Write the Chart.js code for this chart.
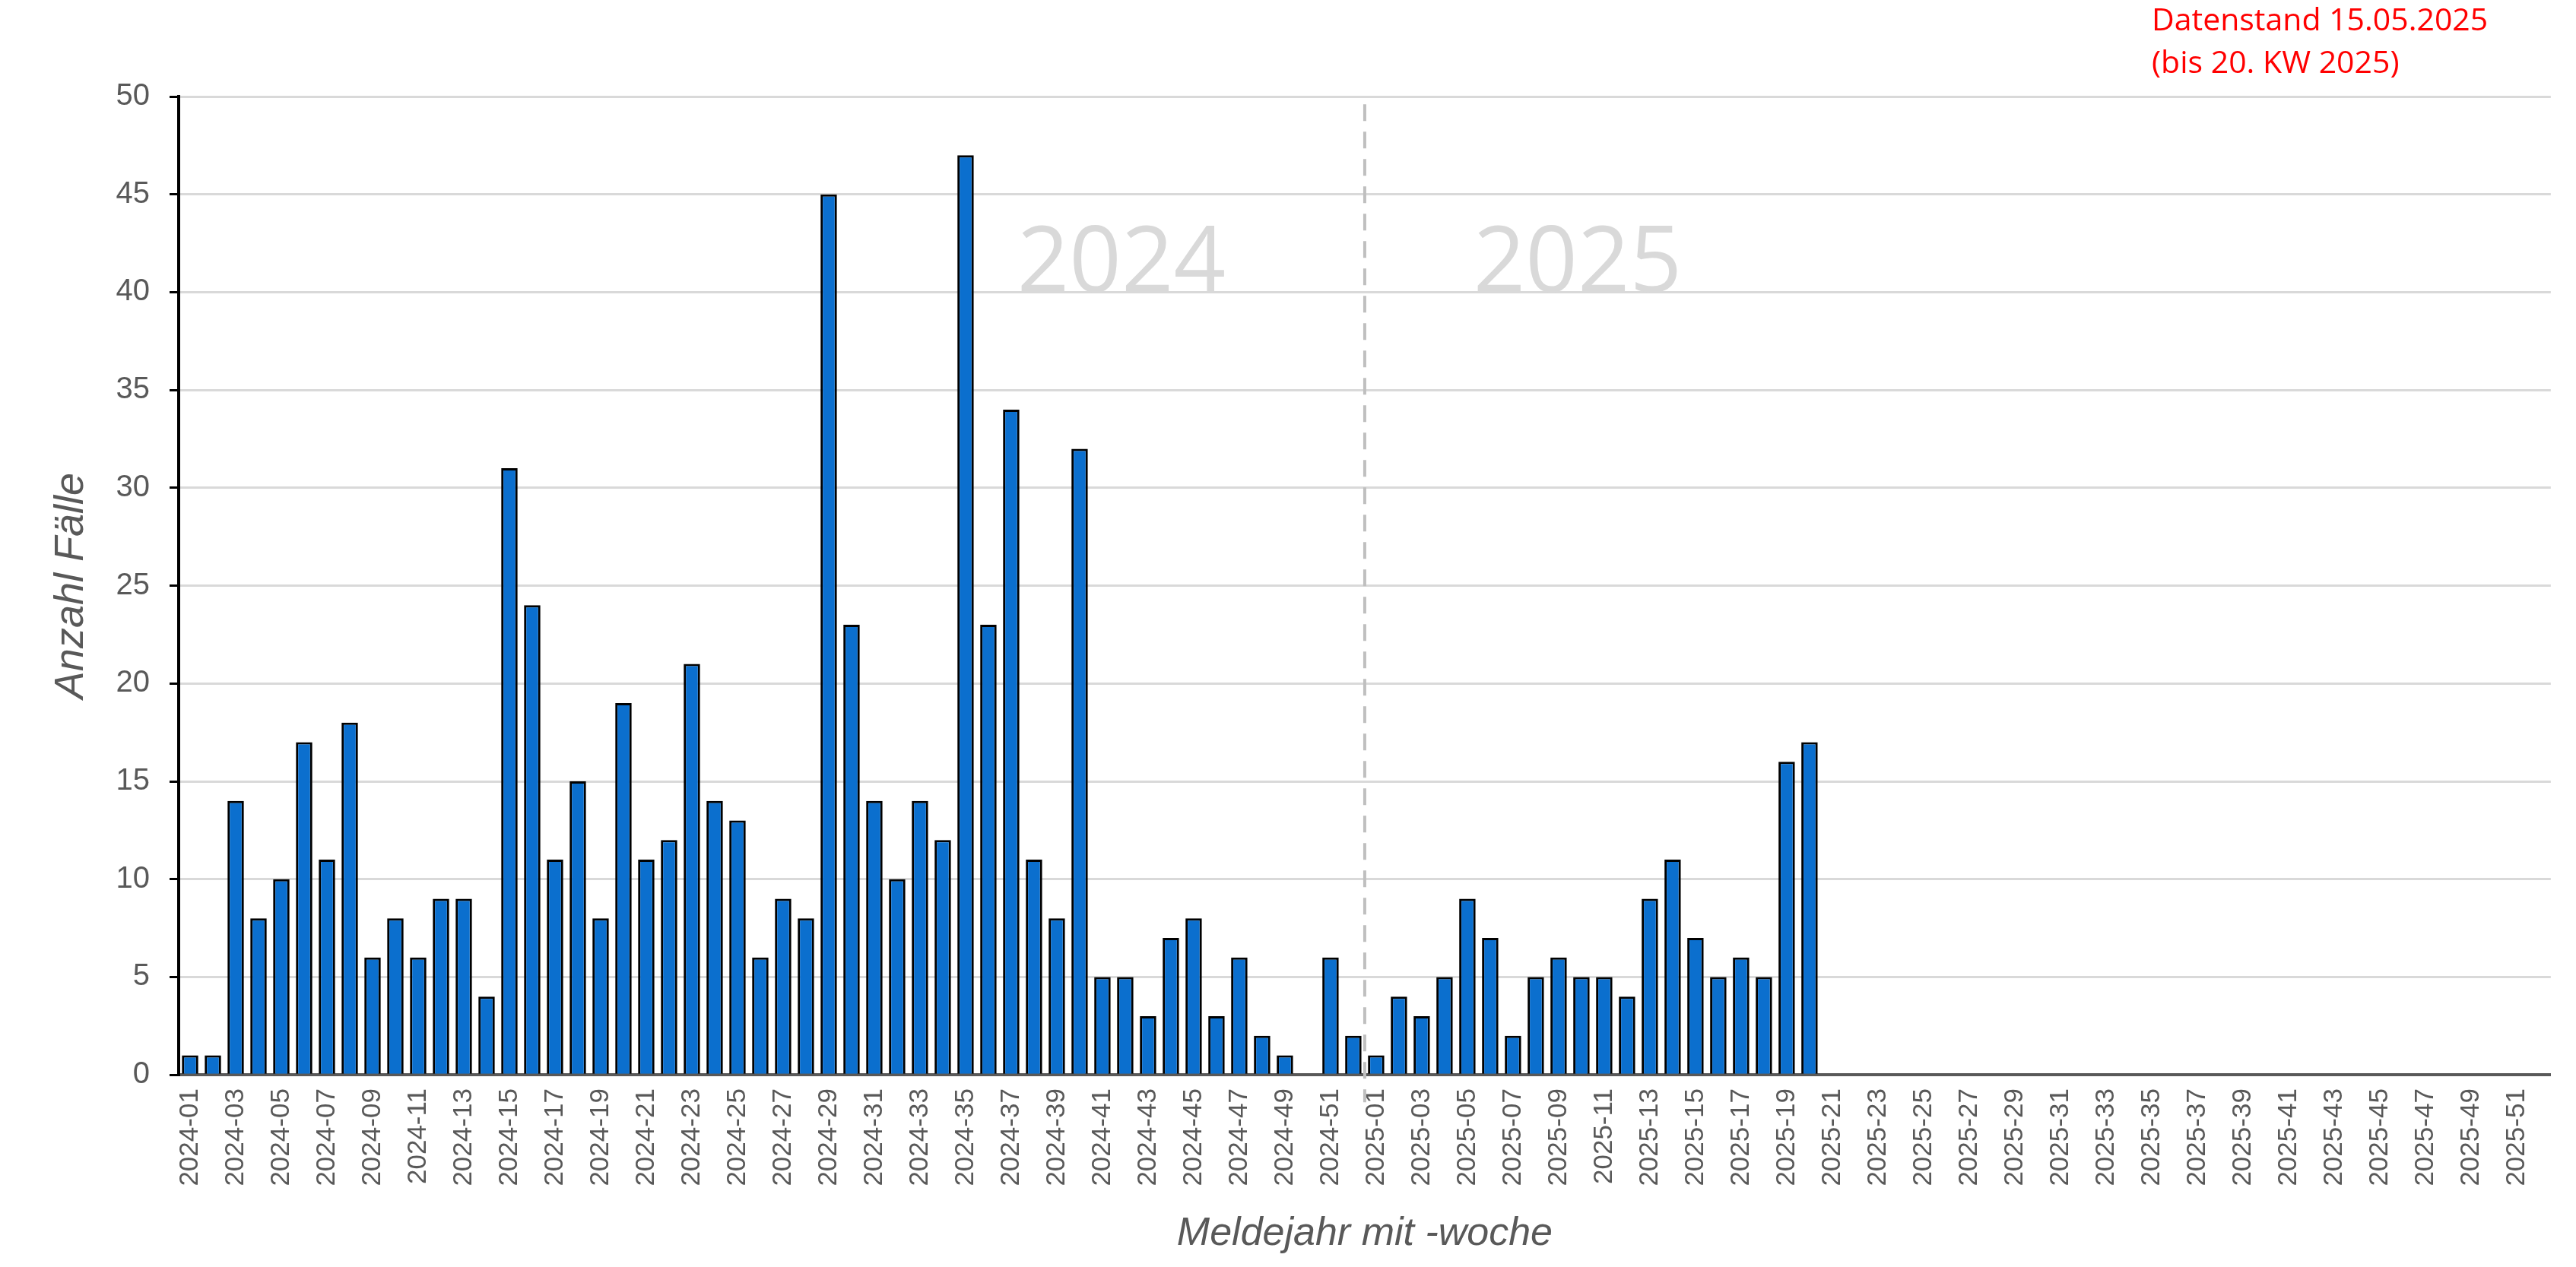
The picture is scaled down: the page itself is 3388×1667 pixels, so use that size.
<!DOCTYPE html>
<html><head><meta charset="utf-8">
<script src="https://cdn.jsdelivr.net/npm/chart.js@4/dist/chart.umd.min.js"></script>
<style>
html,body{margin:0;padding:0;background:#fff;}
#wrap{position:relative;width:3388px;height:1667px;}
#note{position:absolute;left:2830px;top:-4px;color:#ff0000;font-family:"Open Sans","Lato",sans-serif;font-size:41px;line-height:56px;}
</style></head>
<body><div id="wrap"><canvas id="c" width="3388" height="1667"></canvas>
<div id="note">Datenstand 15.05.2025<br>(bis 20. KW 2025)</div></div>
<script>
const years = ['2024','2025'];
const values2024 = [1,1,14,8,10,17,11,18,6,8,6,9,9,4,31,24,11,15,8,19,11,12,21,14,13,6,9,8,45,23,14,10,14,12,47,23,34,11,8,32,5,5,3,7,8,3,6,2,1,0,6,2];
const values2025 = [1,4,3,5,9,7,2,5,6,5,5,4,9,11,7,5,6,5,16,17];
const weeksPerYear = 52;
const yTicks = [0,5,10,15,20,25,30,35,40,45,50];

const labels = [];
years.forEach(y => { for (let w = 1; w <= weeksPerYear; w++) labels.push(y + '-' + String(w).padStart(2,'0')); });
const data = values2024.concat(values2025);
while (data.length < labels.length) data.push(null);

const overlay = {
  id:'overlay',
  afterDatasetsDraw(chart){
    const {ctx, scales:{x,y}} = chart;
    const xs = (x.getPixelForValue(51) + x.getPixelForValue(52))/2;
    ctx.save();
    ctx.strokeStyle = '#bfbfbf'; ctx.lineWidth = 4; ctx.setLineDash([22,14]);
    ctx.beginPath(); ctx.moveTo(xs, y.getPixelForValue(49.6)); ctx.lineTo(xs, y.bottom + 36); ctx.stroke();
    ctx.setLineDash([]);
    ctx.fillStyle = '#d9d9d9'; ctx.font = '120px "Open Sans", Lato, sans-serif';
    ctx.textAlign = 'center'; ctx.textBaseline = 'alphabetic';
    ctx.fillText(years[0], (x.getPixelForValue(41)+x.getPixelForValue(42))/2 - 20, y.getPixelForValue(40));
    ctx.fillText(years[1], (x.getPixelForValue(61)+x.getPixelForValue(62))/2 - 20, y.getPixelForValue(40));
    ctx.restore();
  }
};

const tickFont = {family:'"Liberation Sans Narrow","Liberation Sans",Arial,sans-serif', size:35};
new Chart(document.getElementById('c'), {
  type:'bar',
  data:{labels, datasets:[{data, backgroundColor:'#0b6fce', borderColor:'#000', borderWidth:3, barPercentage:0.72, categoryPercentage:1}]},
  options:{
    responsive:false, animation:false, devicePixelRatio:1,
    layout:{padding:{top:127, right:26, left:58, bottom:8}},
    plugins:{legend:{display:false}, tooltip:{enabled:false}},
    scales:{
      x:{
        grid:{display:false, tickLength:12},
        border:{color:'#595959', width:4},
        ticks:{color:'#595959', font:tickFont, autoSkip:false, maxRotation:90, minRotation:90, padding:6,
          callback:(v,i)=> i%2===0 ? labels[i] : ''},
        title:{display:true, text:'Meldejahr mit -woche', color:'#595959', font:{family:'"Liberation Sans Narrow","Liberation Sans",Arial,sans-serif', size:52, style:'italic'}, padding:{top:26}}
      },
      y:{
        min:0, max:50,
        afterBuildTicks:(s)=>{ s.ticks = yTicks.map(v=>({value:v})); },
        afterFit:(s)=>{ s.width = 177; },
        grid:{color:'#d9d9d9', lineWidth:3, tickColor:'#000', tickLength:12},
        border:{color:'#000', width:4},
        ticks:{color:'#595959', font:{family:tickFont.family, size:40}, padding:26},
        title:{display:true, text:'Anzahl Fälle', color:'#595959', font:{family:'"Liberation Sans Narrow","Liberation Sans",Arial,sans-serif', size:54, style:'italic'}, padding:{bottom:10}}
      }
    }
  },
  plugins:[overlay]
});
</script></body></html>
